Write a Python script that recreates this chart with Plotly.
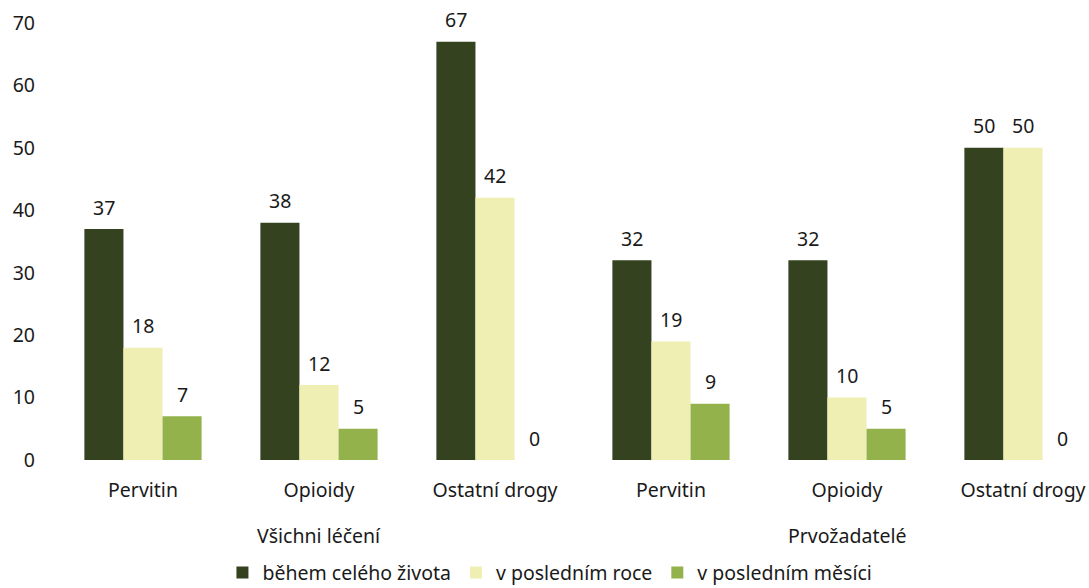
import plotly.graph_objects as go

# Drug categories on the axis, grouped by population
drugs = ["Pervitin", "Opioidy", "Ostatní drogy", "Pervitin", "Opioidy", "Ostatní drogy"]
groups = ["Všichni léčení", "Prvožadatelé"]

# Prevalence of use (%)
series_names = ["během celého života", "v posledním roce", "v posledním měsíci"]
lifetime = [37, 38, 67, 32, 32, 50]
last_year = [18, 12, 42, 19, 10, 50]
last_month = [7, 5, 0, 9, 5, 0]

colors = ["#344220", "#EFEFB4", "#94B24C"]
font_family = "Noto Sans, Open Sans, sans-serif"
text_color = "#1a1a1a"
fs = 19.5

x_pos = list(range(len(drugs)))
bar_w = 0.222
offsets = [-1.5 * bar_w, -0.5 * bar_w, 0.5 * bar_w]

fig = go.Figure()
annotations = []
for name, vals, col, off in zip(series_names, [lifetime, last_year, last_month], colors, offsets):
    fig.add_trace(go.Bar(
        x=x_pos, y=vals, name=name,
        marker=dict(color=col, line=dict(width=0)),
        width=bar_w, offset=off,
    ))
    for xi, v in zip(x_pos, vals):
        annotations.append(dict(
            x=xi + off + bar_w / 2, y=v, xref="x", yref="y",
            text=str(v), showarrow=False, yanchor="middle", yshift=22,
            font=dict(size=fs, color=text_color, family=font_family),
        ))

# Second-level category labels beneath the drug names
for gi, g in enumerate(groups):
    annotations.append(dict(
        x=gi * 3 + 1, y=(460 - 535) / 437, xref="x", yref="paper",
        text=g, showarrow=False, yanchor="middle",
        font=dict(size=fs, color=text_color, family=font_family),
    ))

fig.update_layout(
    width=1089, height=588,
    margin=dict(l=40, r=0, t=23, b=128),
    plot_bgcolor="white", paper_bgcolor="white",
    font=dict(family=font_family, size=fs, color=text_color),
    barmode="group",
    showlegend=True,
    legend=dict(
        orientation="h", x=0.505, xanchor="center", xref="container",
        y=0.026, yanchor="middle", yref="container",
        font=dict(size=fs, color=text_color), itemwidth=30,
        tracegroupgap=0,
    ),
    xaxis=dict(
        tickmode="array", tickvals=x_pos, ticktext=drugs,
        range=[-(143 - 40) / 176, (1089 - 143) / 176],
        showgrid=False, zeroline=False, showline=False, ticks="",
        ticklabelstandoff=16,
    ),
    yaxis=dict(
        range=[0, 70], dtick=10, showgrid=False, zeroline=False, showline=False,
        ticks="", ticklabelstandoff=4,
    ),
    annotations=annotations,
)

fig.write_html("out.html")
